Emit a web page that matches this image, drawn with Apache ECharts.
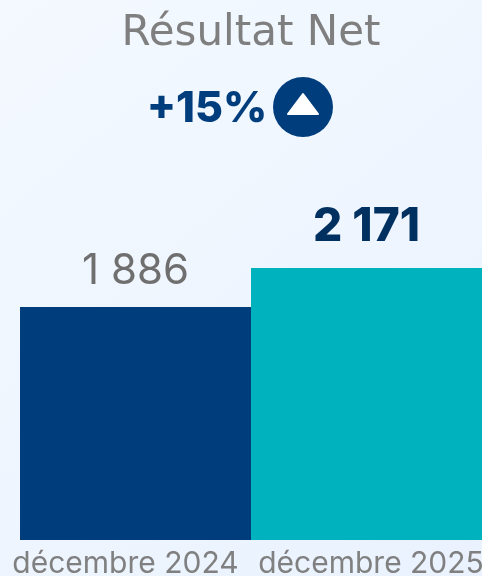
<!DOCTYPE html>
<html>
<head>
<meta charset="utf-8">
<title>Résultat Net</title>
<style>
  html, body { margin: 0; padding: 0; }
  #chart { width: 482px; height: 576px; }
</style>
<script src="https://cdn.jsdelivr.net/npm/echarts@6/dist/echarts.min.js"></script>
</head>
<body>
<div id="chart"></div>
<script>
var categories = ['décembre 2024', 'décembre 2025'];
var values = [1886, 2171];
var valueLabels = ['1 886', '2 171'];
var barColors = ['#003d7c', '#00b2bd'];
var titleText = 'Résultat Net';
var changeText = '+15%';

var fontName = 'Inter';
var chart = echarts.init(document.getElementById('chart'));

var option = {
    animation: false,
    backgroundColor: {
        type: 'linear', x: 0, y: 0, x2: 1, y2: 1,
        colorStops: [
            { offset: 0, color: '#f4f9ff' },
            { offset: 1, color: '#e9f2fe' }
        ]
    },
    title: [{
        text: titleText,
        left: 246, top: 8, textAlign: 'center',
        textStyle: { fontFamily: 'DejaVu Sans', fontSize: 42, fontWeight: 'normal', color: '#7f7f7f' }
    }, {
        text: changeText,
        left: 202, top: 83, textAlign: 'center',
        textStyle: { fontFamily: fontName, fontSize: 43, fontWeight: 800, color: '#003d7c' }
    }],
    grid: { left: 20, right: 0, top: 268, bottom: 36, outerBoundsMode: 'none' },
    xAxis: {
        type: 'category',
        data: [
            { value: categories[0], textStyle: { padding: [0, 20, 0, 0] } },
            { value: categories[1], textStyle: { padding: [0, 0, 0, 9] } }
        ],
        axisLine: { show: false },
        axisTick: { show: false },
        axisLabel: {
            interval: 0, margin: 9, hideOverlap: false,
            fontFamily: fontName, fontSize: 30, color: '#808080'
        }
    },
    yAxis: {
        type: 'value',
        min: 180,
        max: 2171,
        show: false
    },
    series: [{
        type: 'bar',
        barWidth: '100%',
        data: values.map(function (v, i) {
            return {
                value: v,
                itemStyle: { color: barColors[i] },
                label: i === 1
                    ? { fontWeight: 800, color: '#00305f', fontSize: 46, distance: 18 }
                    : { fontWeight: 'normal', color: '#6f6f6f', fontSize: 42, distance: 15 }
            };
        }),
        label: {
            show: true,
            position: 'top',
            fontFamily: fontName,
            formatter: function (p) { return valueLabels[p.dataIndex]; }
        }
    }],
    graphic: [{
        type: 'circle',
        shape: { cx: 303, cy: 107, r: 30 },
        style: { fill: '#003d7c' }
    }, {
        type: 'polygon',
        shape: { points: [[303, 94], [288, 114], [318, 114]] },
        style: { fill: '#ffffff', stroke: '#ffffff', lineWidth: 2, lineJoin: 'round' }
    }]
};

chart.setOption(option);
</script>
</body>
</html>
